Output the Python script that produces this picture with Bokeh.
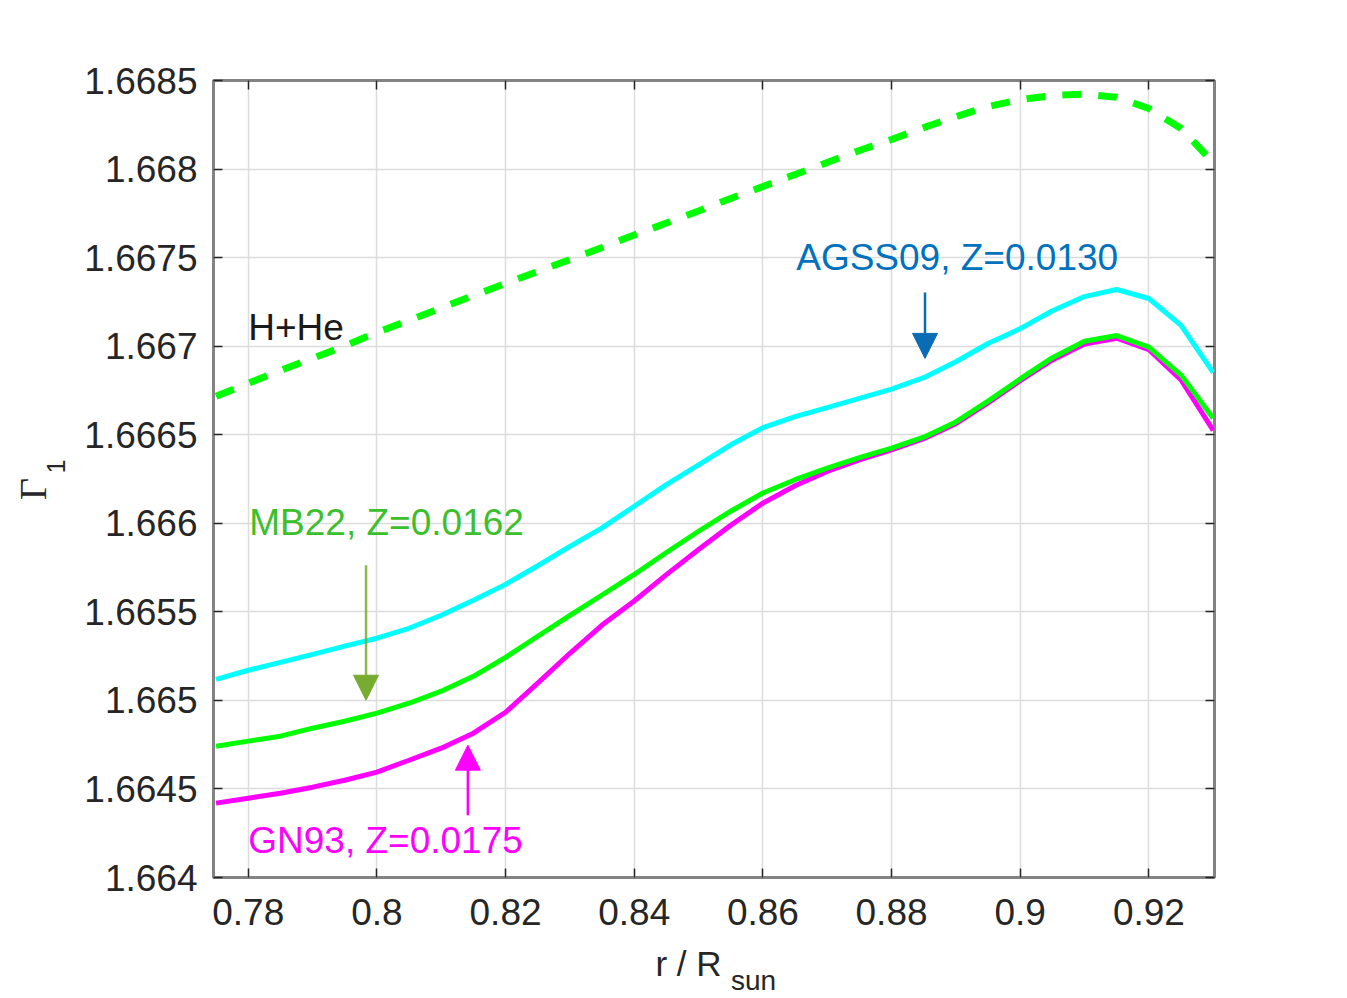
from bokeh.plotting import figure
from bokeh.models import (Range1d, FixedTicker, LinearAxis, Arrow, NormalHead,
                          ColumnDataSource, CustomJSTickFormatter)
from bokeh.core.properties import value
from bokeh.embed import file_html
from bokeh.resources import INLINE

# ---------------- data ----------------
r = [0.775, 0.780, 0.785, 0.790, 0.795, 0.800, 0.805, 0.810, 0.815, 0.820,
     0.825, 0.830, 0.835, 0.840, 0.845, 0.850, 0.855, 0.860, 0.865, 0.870,
     0.875, 0.880, 0.885, 0.890, 0.895, 0.900, 0.905, 0.910, 0.915, 0.920,
     0.925, 0.930]

gamma_hhe = [1.666717, 1.666790, 1.666863, 1.666931, 1.667001, 1.667078, 1.667145, 1.667216,
             1.667286, 1.667354, 1.667422, 1.667489, 1.667557, 1.667628, 1.667695, 1.667763,
             1.667834, 1.667901, 1.667969, 1.668037, 1.668105, 1.668167, 1.668234, 1.668296,
             1.668353, 1.668392, 1.668415, 1.668423, 1.668406, 1.668342, 1.668229, 1.668037]

gamma_agss09 = [1.665119, 1.665170, 1.665215, 1.665260, 1.665306, 1.665351, 1.665407, 1.665481,
                1.665565, 1.665655, 1.665760, 1.665870, 1.665974, 1.666096, 1.666218, 1.666330,
                1.666443, 1.666540, 1.666602, 1.666653, 1.666705, 1.666758, 1.666822, 1.666912,
                1.667015, 1.667099, 1.667200, 1.667280, 1.667320, 1.667269, 1.667117, 1.666851]

gamma_mb22 = [1.664741, 1.664770, 1.664798, 1.664843, 1.664882, 1.664928, 1.664984, 1.665052,
              1.665136, 1.665243, 1.665362, 1.665480, 1.665595, 1.665711, 1.665835, 1.665955,
              1.666068, 1.666171, 1.666246, 1.666311, 1.666371, 1.666424, 1.666486, 1.666572,
              1.666690, 1.666815, 1.666935, 1.667028, 1.667060, 1.666995, 1.666837, 1.666593]

gamma_gn93 = [1.664420, 1.664448, 1.664476, 1.664510, 1.664549, 1.664595, 1.664662, 1.664730,
              1.664815, 1.664933, 1.665097, 1.665266, 1.665425, 1.665561, 1.665710, 1.665852,
              1.665989, 1.666114, 1.666212, 1.666293, 1.666358, 1.666415, 1.666478, 1.666562,
              1.666680, 1.666805, 1.666922, 1.667012, 1.667045, 1.666980, 1.666810, 1.666525]

x_ticks = [0.78, 0.80, 0.82, 0.84, 0.86, 0.88, 0.90, 0.92]
x_tick_labels = ["0.78", "0.8", "0.82", "0.84", "0.86", "0.88", "0.9", "0.92"]
y_ticks = [1.664, 1.6645, 1.665, 1.6655, 1.666, 1.6665, 1.667, 1.6675, 1.668, 1.6685]
y_tick_labels = ["1.664", "1.6645", "1.665", "1.6655", "1.666", "1.6665", "1.667",
                 "1.6675", "1.668", "1.6685"]

ann_texts = ["AGSS09, Z=0.0130", "H+He", "MB22, Z=0.0162", "GN93, Z=0.0175"]
ann_x = [0.86518, 0.7800, 0.78016, 0.7800]
ann_y = [1.667501, 1.667106, 1.666005, 1.664211]
ann_colors = ["#0072BD", "#1a1a1a", "#3cbf2d", "#FF00FF"]

FONT = "Liberation Sans"
TXT = "#262626"

# ---------------- figure ----------------
p = figure(width=1340, height=998, output_backend="svg", toolbar_location=None,
           x_range=Range1d(0.7746, 0.9302), y_range=Range1d(1.664, 1.6685),
           min_border_left=213, min_border_right=126, min_border_top=80,
           min_border_bottom=121)
p.background_fill_color = "white"
p.border_fill_color = "white"
p.outline_line_color = "#838383"
p.outline_line_width = 3

JS = "const i = tv.findIndex(t => Math.abs(t - tick) < 1e-9); return i >= 0 ? tl[i] : '';"
xfmt = CustomJSTickFormatter(args=dict(tv=x_ticks, tl=x_tick_labels), code=JS)
yfmt = CustomJSTickFormatter(args=dict(tv=y_ticks, tl=y_tick_labels), code=JS)

for ax, tk, fmt in ((p.xaxis[0], x_ticks, xfmt), (p.yaxis[0], y_ticks, yfmt)):
    ax.ticker = FixedTicker(ticks=tk)
    ax.formatter = fmt
    ax.axis_line_color = None
    ax.major_tick_in = 9
    ax.major_tick_out = 0
    ax.major_tick_line_color = TXT
    ax.major_tick_line_width = 1.5
    ax.minor_tick_line_color = None
    ax.major_label_text_font = FONT
    ax.major_label_text_font_size = "37px"
    ax.major_label_text_color = TXT
p.xaxis[0].major_label_standoff = 21
p.yaxis[0].major_label_standoff = 16

top_ax = LinearAxis(ticker=FixedTicker(ticks=x_ticks))
right_ax = LinearAxis(ticker=FixedTicker(ticks=y_ticks))
for ax in (top_ax, right_ax):
    ax.formatter = CustomJSTickFormatter(code="return '';")
    ax.major_label_text_font_size = "0px"
    ax.major_label_standoff = 0
    ax.axis_line_color = None
    ax.major_tick_in = 9
    ax.major_tick_out = 0
    ax.major_tick_line_color = TXT
    ax.major_tick_line_width = 1.5
    ax.minor_tick_line_color = None
p.add_layout(top_ax, "above")
p.add_layout(right_ax, "right")


# axis titles with subscripts, drawn as single-tick label axes outside the frame
def label_axis(pos, text, font, size, standoff, orientation="horizontal"):
    ax = LinearAxis(ticker=FixedTicker(ticks=[pos]),
                    formatter=CustomJSTickFormatter(args=dict(lab=text), code="return lab;"))
    ax.axis_line_color = None
    ax.major_tick_line_color = None
    ax.minor_tick_line_color = None
    ax.major_tick_in = 0
    ax.major_tick_out = 0
    ax.minor_tick_in = 0
    ax.minor_tick_out = 0
    ax.major_label_text_font = font
    ax.major_label_text_font_size = size
    ax.major_label_text_color = TXT
    ax.major_label_standoff = standoff
    ax.major_label_orientation = orientation
    return ax


p.add_layout(label_axis(0.848436, "r / R", FONT, "35px", 16), "below")
p.add_layout(label_axis(0.858540, "sun", FONT, "28px", -21), "below")
p.add_layout(label_axis(1.6663206, "1", FONT, "25px", 16, "parallel"), "left")
p.add_layout(label_axis(1.6661935, "Γ", "Liberation Serif", "38px", -10, "parallel"), "left")

p.xgrid.ticker = FixedTicker(ticks=x_ticks)
p.ygrid.ticker = FixedTicker(ticks=y_ticks)
p.grid.grid_line_color = "#dcdcdc"
p.grid.grid_line_width = 1.5

# ---------------- curves ----------------
p.line(r, gamma_hhe, line_color="#00FF00", line_width=7, line_dash="19 17")
p.line(r, gamma_agss09, line_color="#00FFFF", line_width=5, line_join="round")
p.line(r, gamma_gn93, line_color="#FF00FF", line_width=5, line_join="round")
p.line(r, gamma_mb22, line_color="#00FF00", line_width=5, line_join="round")

# ---------------- annotations ----------------
src = ColumnDataSource(dict(x=ann_x, y=ann_y, text=ann_texts, color=ann_colors))
p.text(x="x", y="y", text="text", text_color="color", source=src,
       text_font=value(FONT), text_font_size="37px", text_align="left",
       text_baseline="middle")

arrows = [
    (0.8852, 1.667303, 0.8852, 1.666931, "#0a6cb4", 2.5, 1.0),
    (0.79831, 1.665763, 0.79831, 1.665001, "#77AC30", 2.5, 0.85),
    (0.81414, 1.664352, 0.81414, 1.664747, "#FF00FF", 2.5, 1.0),
]
for xs, ys, xe, ye, c, w, a in arrows:
    p.add_layout(Arrow(end=NormalHead(size=25, fill_color=c, line_color=c, line_width=1),
                       x_start=xs, y_start=ys, x_end=xe, y_end=ye,
                       line_color=c, line_width=w, line_alpha=a))

open("out.html", "w").write(file_html(p, INLINE))
